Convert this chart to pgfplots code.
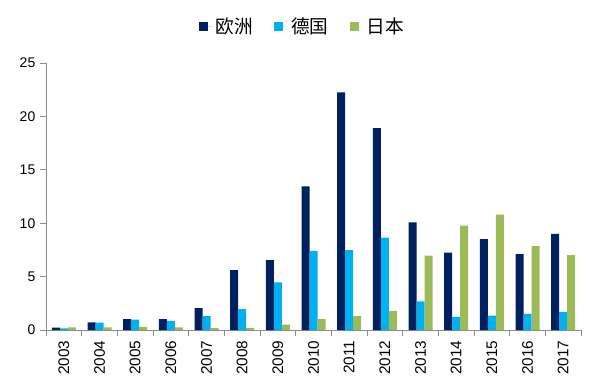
\documentclass[border=0pt]{standalone}
\usepackage{fontspec}
\setmainfont{Liberation Sans}
\newfontfamily\cjk{Noto Sans CJK SC}
\usepackage{pgfplots}
\pgfplotsset{compat=1.18}
\definecolor{eu}{HTML}{002060}
\definecolor{de}{HTML}{00B0F0}
\definecolor{jp}{HTML}{9BBB59}
\definecolor{axg}{HTML}{8C8C8C}
\begin{document}
\begin{tikzpicture}
\path[use as bounding box] (0,0) rectangle (450pt,292.5pt);
\begin{axis}[
  at={(34.5pt,45pt)}, anchor=south west,
  scale only axis, width=401.25pt, height=200.25pt,
  ybar=0pt, bar width=6pt,
  xmin=-0.5, xmax=14.5, ymin=0, ymax=25,
  xtick={0,...,14},
  xticklabels={2003,2004,2005,2006,2007,2008,2009,2010,2011,2012,2013,2014,2015,2016,2017},
  minor xtick={-0.5,0.5,...,14.5},
  every major x tick/.append style={draw=none},
  ytick={0,5,...,25},
  /pgf/number format/assume math mode=true,
  axis x line*=bottom, axis y line*=left,
  axis line style={axg, line width=0.6pt},
  tick style={axg, line width=0.6pt},
  tick align=outside,
  major tick length=4.5pt, minor tick length=4.5pt,
  x tick label style={rotate=90, anchor=east, font=\fontsize{11.5}{13}\selectfont},
  y tick label style={font=\fontsize{10.5}{12}\selectfont},
  legend style={at={(0.48,1.135)}, anchor=center, draw=none, fill=none,
    legend columns=3, font=\cjk\fontsize{14}{16}\selectfont,
    /tikz/every even column/.append style={column sep=14pt}},
  legend image code/.code={\fill[#1,draw=none] (0pt,-3.4pt) rectangle (6.75pt,3.4pt); \path (0pt,0pt) -- (10.5pt,0pt);},
]
\addplot[fill=eu, draw=none] coordinates {(0,0.22) (1,0.72) (2,1.03) (3,1.03) (4,2.06) (5,5.6) (6,6.55) (7,13.45) (8,22.25) (9,18.9) (10,10.08) (11,7.24) (12,8.52) (13,7.1) (14,8.99)};
\addplot[fill=de, draw=none] coordinates {(0,0.15) (1,0.7) (2,0.97) (3,0.85) (4,1.3) (5,1.95) (6,4.46) (7,7.4) (8,7.49) (9,8.65) (10,2.68) (11,1.22) (12,1.34) (13,1.5) (14,1.68)};
\addplot[fill=jp, draw=none] coordinates {(0,0.25) (1,0.25) (2,0.3) (3,0.25) (4,0.18) (5,0.2) (6,0.5) (7,1.03) (8,1.31) (9,1.78) (10,6.96) (11,9.77) (12,10.8) (13,7.86) (14,7.02)};
\legend{欧洲,德国,日本}
\end{axis}
\end{tikzpicture}
\end{document}
